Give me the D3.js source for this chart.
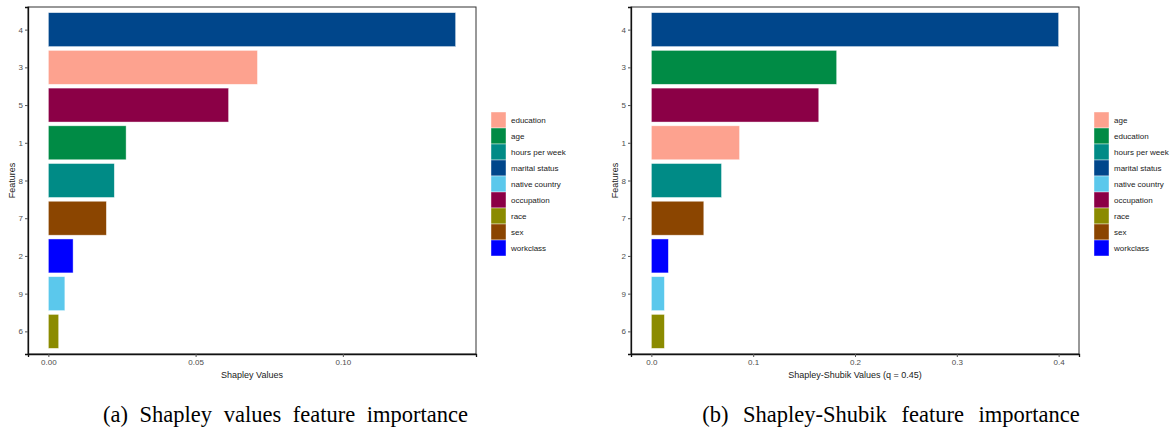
<!DOCTYPE html>
<html lang="en">
<head>
<meta charset="UTF-8">
<title>Shapley vs Shapley-Shubik feature importance</title>
<script src="https://cdn.jsdelivr.net/npm/d3@7"></script>
<style>
  body { margin: 0; padding: 0; background: white; }
  svg { display: block; }
  .tick text { font-family: "Liberation Sans", Arial, sans-serif; }
</style>
</head>
<body>
<div id="chart"></div>
<script>
// features from top to bottom (both panels use the same order)
const featureOrder = ["4", "3", "5", "1", "8", "7", "2", "9", "6"];

// (a) Shapley values
const shapleyValues = [0.1383, 0.0710, 0.0612, 0.0264, 0.0224, 0.0197, 0.0084, 0.0056, 0.0035];
const shapleyNames = ["marital status", "education", "occupation", "age", "hours per week", "sex", "workclass", "native country", "race"];
const shapleyLegend = ["education", "age", "hours per week", "marital status", "native country", "occupation", "race", "sex", "workclass"];
const shapleyTicks = [0, 0.05, 0.10];

// (b) Shapley-Shubik values
const shubikValues = [0.400, 0.182, 0.1644, 0.0866, 0.0689, 0.0515, 0.0167, 0.0128, 0.0128];
const shubikNames = ["marital status", "education", "occupation", "age", "hours per week", "sex", "workclass", "native country", "race"];
const shubikLegend = ["age", "education", "hours per week", "marital status", "native country", "occupation", "race", "sex", "workclass"];
const shubikTicks = [0, 0.1, 0.2, 0.3, 0.4];

const palette = ["#FDA28F", "#008B45", "#008B86", "#00468B", "#5BC8EC", "#8B0046", "#8B8B00", "#8B4500", "#0000FF"];

const W = 1173, H = 428;
const svg = d3.select("#chart").append("svg")
    .attr("width", W).attr("height", H);
svg.append("rect").attr("width", W).attr("height", H).attr("fill", "white");

function drawPanel(opt) {
    const top = 7, bottom = 354;
    const g = svg.append("g");

    const max = d3.max(opt.values);
    const x = d3.scaleLinear()
        .domain([-0.05 * max, 1.05 * max])
        .range([opt.left, opt.right]);
    const y = d3.scalePoint()
        .domain(featureOrder)
        .range([top, bottom])
        .padding(0.6);
    const bh = y.step() * 0.9;
    const color = d3.scaleOrdinal().domain(opt.legend).range(palette);

    const rows = featureOrder.map((f, i) => ({ f, v: opt.values[i], name: opt.names[i] }));

    g.append("g").selectAll("rect")
        .data(rows)
        .join("rect")
        .attr("x", x(0))
        .attr("y", d => y(d.f) - bh / 2)
        .attr("width", d => x(d.v) - x(0))
        .attr("height", bh)
        .attr("fill", d => color(d.name))
        .attr("stroke", "white")
        .attr("stroke-opacity", 0.6)
        .attr("stroke-width", 0.7);

    // panel border
    g.append("rect")
        .attr("x", opt.left).attr("y", top)
        .attr("width", opt.right - opt.left).attr("height", bottom - top)
        .attr("fill", "none").attr("stroke", "#333").attr("stroke-width", 1);

    // axes
    const xAxis = g.append("g")
        .attr("transform", `translate(0,${bottom})`)
        .call(d3.axisBottom(x).tickValues(opt.ticks).tickFormat(opt.fmt).tickSize(3).tickPadding(2));
    xAxis.select(".domain").attr("stroke", "#111").attr("stroke-width", 1.3);
    xAxis.selectAll(".tick line").attr("stroke", "#555");
    xAxis.selectAll(".tick text").attr("fill", "#4d4d4d").style("font-size", "8px");

    const yAxis = g.append("g")
        .attr("transform", `translate(${opt.left},0)`)
        .call(d3.axisLeft(y).tickSize(3).tickPadding(2));
    yAxis.select(".domain").attr("stroke", "#111").attr("stroke-width", 1.3);
    yAxis.selectAll(".tick line").attr("stroke", "#555");
    yAxis.selectAll(".tick text").attr("fill", "#4d4d4d").style("font-size", "8px");

    // axis titles
    g.append("text")
        .attr("x", (opt.left + opt.right) / 2).attr("y", 378)
        .attr("text-anchor", "middle")
        .style("font", "9px 'Liberation Sans', Arial, sans-serif")
        .attr("fill", "#1a1a1a")
        .text(opt.xTitle);
    g.append("text")
        .attr("transform", `translate(${opt.left - 13},${(top + bottom) / 2}) rotate(-90)`)
        .attr("text-anchor", "middle")
        .style("font", "9px 'Liberation Sans', Arial, sans-serif")
        .attr("fill", "#1a1a1a")
        .text("Features");

    // legend
    const leg = g.append("g").attr("transform", `translate(${opt.right + 15},112)`);
    const item = leg.selectAll("g")
        .data(opt.legend)
        .join("g")
        .attr("transform", (d, i) => `translate(0,${i * 16})`);
    item.append("rect")
        .attr("width", 15).attr("height", 16)
        .attr("fill", d => color(d))
        .attr("stroke", "white").attr("stroke-opacity", 0.6).attr("stroke-width", 0.7);
    item.append("text")
        .attr("x", 20).attr("y", 8).attr("dy", "0.35em")
        .style("font", "8px 'Liberation Sans', Arial, sans-serif")
        .attr("fill", "#1a1a1a")
        .text(d => d);

    // caption (justified LaTeX subcaption -> wider word gaps)
    svg.append("text")
        .attr("x", opt.capX).attr("y", 422)
        .attr("text-anchor", "middle")
        .style("font", "22.5px 'Liberation Serif', 'Times New Roman', serif")
        .style("word-spacing", opt.capGap + "px")
        .attr("fill", "black")
        .text(opt.caption);
}

drawPanel({
    left: 28, right: 476,
    values: shapleyValues, names: shapleyNames, legend: shapleyLegend,
    ticks: shapleyTicks, fmt: d3.format(".2f"),
    xTitle: "Shapley Values",
    caption: "(a) Shapley values feature importance", capX: 285.5, capGap: 6
});

drawPanel({
    left: 631, right: 1079,
    values: shubikValues, names: shubikNames, legend: shubikLegend,
    ticks: shubikTicks, fmt: d3.format(".1f"),
    xTitle: "Shapley-Shubik Values (q = 0.45)",
    caption: "(b) Shapley-Shubik feature importance", capX: 891, capGap: 9
});
</script>
</body>
</html>
